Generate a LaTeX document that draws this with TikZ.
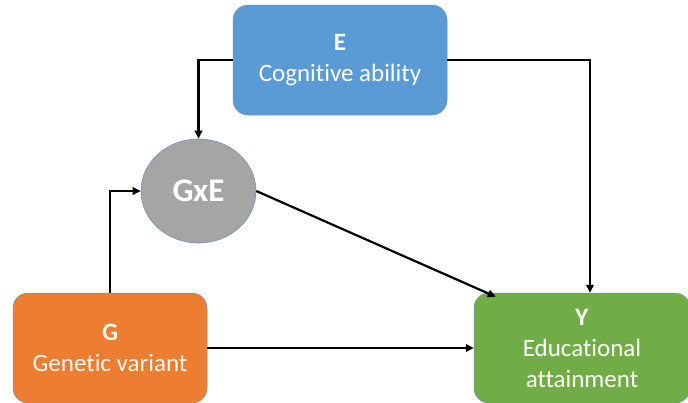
\documentclass[tikz,border=0pt]{standalone}
\usepackage{fontspec}
\setmainfont{Carlito}[Ligatures={NoCommon}]
\usetikzlibrary{arrows.meta,shapes.geometric}
\definecolor{cblue}{HTML}{5B9BD5}
\definecolor{corange}{HTML}{ED7D31}
\definecolor{cgreen}{HTML}{70AD47}
\definecolor{cgray}{HTML}{A5A5A5}
\definecolor{cedge}{HTML}{6F93B8}
\tikzset{
  box/.style={rectangle, rounded corners=15pt, text=white, align=center,
    font=\fontsize{25}{31}\selectfont, inner sep=0pt, draw=cedge, line width=0.5pt},
  conn/.style={line width=2.2pt, -{Triangle[length=8pt,width=7.5pt]}},
}
\begin{document}
\begin{tikzpicture}[x=1pt,y=-1pt]
\useasboundingbox (0,0) rectangle (688,402);
\clip (0,0) rectangle (688,402);
\node[box, fill=cblue, minimum width=214pt, minimum height=110pt] (E) at (340,60)
  {\textbf{E}\\Cognitive ability};
\node[ellipse, fill=cgray, draw=cedge, line width=0.6pt, minimum width=115pt, minimum height=104pt,
  text=white, font=\fontsize{33}{36}\selectfont\bfseries, inner sep=0pt] (GxE) at (198.5,191) {GxE};
\node[box, fill=corange, minimum width=194pt, minimum height=110pt] (G) at (110,348)
  {\textbf{G}\\Genetic variant};
\node[box, fill=cgreen, minimum width=216pt, minimum height=110pt] (Y) at (582,348)
  {\textbf{Y}\\Educational\\attainment};
\draw[conn] (E.west) -| (GxE.north);
\draw[conn] (E.east) -| ([xshift=8pt]Y.north);
\draw[conn] (G.north) |- (GxE.west);
\draw[conn] (G.east) -- (G.east -| Y.west);
\draw[conn] (GxE.east) -- ([xshift=22pt,yshift=-4pt]Y.north west);
\end{tikzpicture}
\end{document}
